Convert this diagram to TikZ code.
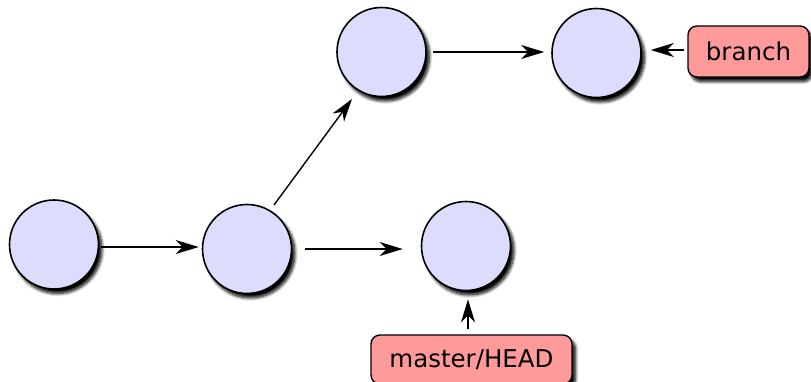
\documentclass[tikz,border=0pt]{standalone}
\usepackage{fontspec}
\setmainfont{DejaVu Sans}
\usetikzlibrary{arrows.meta,shadows.blur,calc}
\definecolor{commitfill}{RGB}{220,220,252}
\definecolor{reffill}{RGB}{255,154,154}
\begin{document}
\begin{tikzpicture}[x=1pt,y=-1pt,
  dropshadow/.style={blur shadow={shadow xshift=3.5pt, shadow yshift=-4.5pt,
      shadow blur radius=3pt, shadow blur steps=8, shadow opacity=100}},
  commit/.style={circle, draw=black, line width=1.6pt, fill=commitfill,
      minimum size=89pt, inner sep=0pt, dropshadow},
  ref/.style={rectangle, rounded corners=9pt, draw=black, line width=1.4pt,
      fill=reffill, inner sep=0pt, font=\fontsize{24.5}{28}\selectfont, dropshadow},
  link/.style={line width=1.4pt, -{Stealth[length=23pt,width=14pt,inset=7pt]}}]
\clip (0,0) rectangle (811,381);

% commits
\node[commit] (c1) at (54,244.5) {};
\node[commit] (c2) at (247,249) {};
\node[commit] (c3) at (381.5,52) {};
\node[commit] (c4) at (596.5,53) {};
\node[commit] (c5) at (466,246) {};

% references
\node[ref, minimum width=121pt, minimum height=51pt] (branch) at (748.5,51.5) {branch};
\node[ref, minimum width=201pt, minimum height=49pt] (master) at (471.5,359.5) {master/HEAD};

% history
\draw[link] ([shift={(2,2.5)}]c1.east) -- ([shift={(-3,-2)}]c2.west);
\draw[link] ($(c2)+(27,-44)$) -- ($(c3)+(-29.5,47)$);
\draw[link] ([shift={(6,0)}]c3.east) -- ([shift={(-7,-1)}]c4.west);
\draw[link] ([shift={(13,0)}]c2.east) -- ([shift={(-18,3)}]c5.west);

% reference pointers
\draw[link] ([shift={(-3,-1.5)}]branch.west) -- ([shift={(9,-3)}]c4.east);
\draw[link] ([shift={(-3.5,-5)}]master.north) -- ([shift={(2,8)}]c5.south);
\end{tikzpicture}
\end{document}
